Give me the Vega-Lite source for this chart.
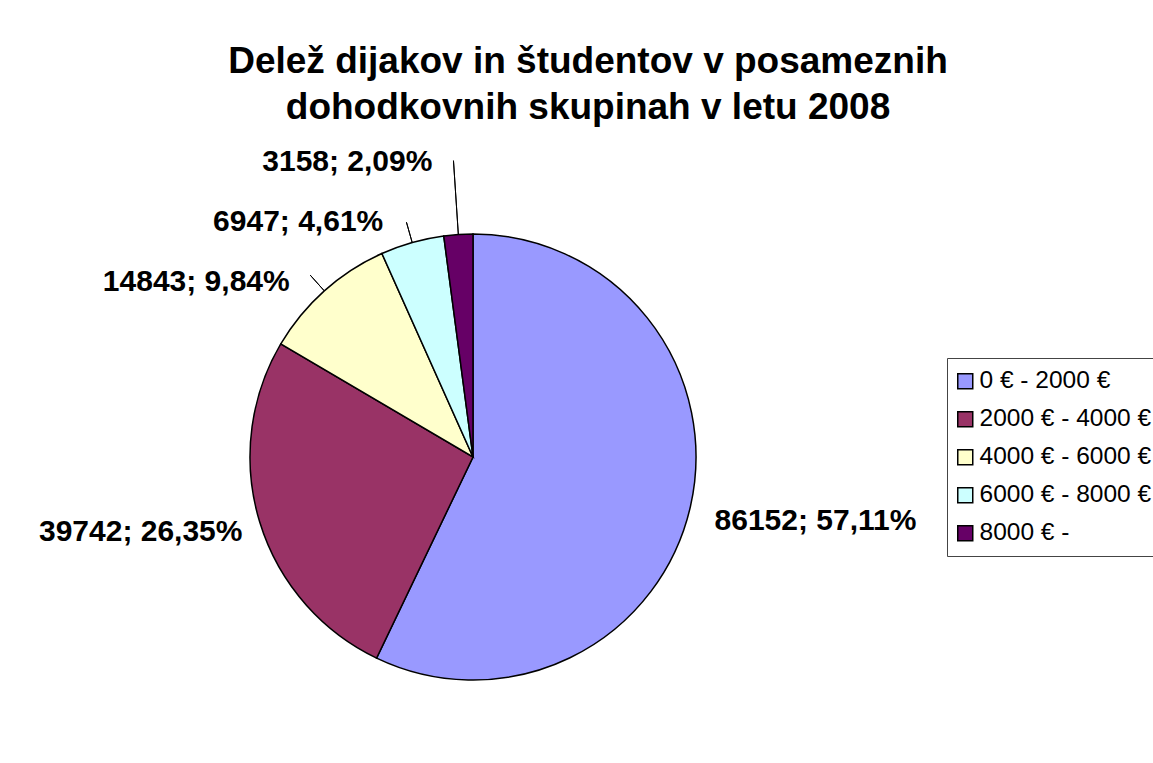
{
  "$schema": "https://vega.github.io/schema/vega-lite/v6.json",
  "width": 946,
  "height": 612,
  "autosize": {"type": "none"},
  "padding": {"left": 0, "top": 151, "right": 207, "bottom": 0},
  "background": "white",
  "config": {"view": {"stroke": null}, "font": "Liberation Sans"},
  "title": {
    "text": ["Delež dijakov in študentov v posameznih", "dohodkovnih skupinah v letu 2008"],
    "font": "Liberation Sans",
    "fontSize": 37,
    "fontWeight": "bold",
    "color": "black",
    "anchor": "middle",
    "dx": 115,
    "lineHeight": 46,
    "offset": 20
  },
  "data": {
    "values": [
      {"idx": 1, "group": "0 € - 2000 €", "count": 86152},
      {"idx": 2, "group": "2000 € - 4000 €", "count": 39742},
      {"idx": 3, "group": "4000 € - 6000 €", "count": 14843},
      {"idx": 4, "group": "6000 € - 8000 €", "count": 6947},
      {"idx": 5, "group": "8000 € -", "count": 3158}
    ]
  },
  "transform": [
    {"stack": "count", "groupby": [], "sort": [{"field": "idx", "order": "ascending"}], "as": ["t0", "t1"]},
    {"joinaggregate": [{"op": "sum", "field": "count", "as": "total"}]},
    {"calculate": "(datum.t0 + datum.t1) / 2", "as": "mid"},
    {"calculate": "datum.count + '; ' + replace(format(datum.count / datum.total, '.2%'), '.', ',')", "as": "label"}
  ],
  "layer": [
    {
      "mark": {"type": "arc", "outerRadius": 223, "stroke": "black", "strokeWidth": 1.5},
      "encoding": {
        "theta": {"field": "count", "type": "quantitative", "stack": true},
        "order": {"field": "idx", "type": "quantitative", "sort": "ascending"},
        "color": {
          "field": "group",
          "type": "nominal",
          "sort": {"field": "idx"},
          "scale": {
            "domain": ["0 € - 2000 €", "2000 € - 4000 €", "4000 € - 6000 €", "6000 € - 8000 €", "8000 € -"],
            "range": ["#9999FF", "#993366", "#FFFFCC", "#CCFFFF", "#660066"]
          },
          "legend": {
            "orient": "none",
            "legendX": 947,
            "legendY": 207,
            "title": null,
            "labelFontSize": 24.5,
            "labelFont": "Liberation Sans",
            "labelColor": "black",
            "symbolType": "square",
            "symbolSize": 225,
            "symbolStrokeColor": "black",
            "symbolStrokeWidth": 1.5,
            "symbolOpacity": 1,
            "symbolOffset": -5,
            "rowPadding": 13,
            "padding": 11,
            "strokeColor": "#444444",
            "labelLimit": 400,
            "labelOffset": 2
          }
        }
      }
    },
    {
      "transform": [{"filter": "datum.idx == 3 || datum.idx == 4"}],
      "mark": {"type": "arc", "innerRadius": 223, "outerRadius": 244, "stroke": "black", "strokeWidth": 1, "fillOpacity": 0},
      "encoding": {
        "theta": {"field": "mid", "type": "quantitative", "stack": null},
        "theta2": {"field": "mid"}
      }
    },
    {
      "transform": [{"filter": "datum.idx == 5"}],
      "mark": {"type": "arc", "innerRadius": 223, "outerRadius": 297, "stroke": "black", "strokeWidth": 1, "fillOpacity": 0},
      "encoding": {
        "theta": {"field": "mid", "type": "quantitative", "stack": null},
        "theta2": {"field": "mid"}
      }
    },
    {
      "transform": [{"filter": "datum.idx == 1"}],
      "mark": {"type": "text", "radius": 223, "dx": 125, "dy": 15, "fontSize": 30, "fontWeight": "bold", "font": "Liberation Sans", "align": "center", "baseline": "middle", "color": "black"},
      "encoding": {"theta": {"field": "mid", "type": "quantitative", "stack": null}, "text": {"field": "label"}}
    },
    {
      "transform": [{"filter": "datum.idx == 2"}],
      "mark": {"type": "text", "radius": 223, "dx": -119, "dy": 10, "fontSize": 30, "fontWeight": "bold", "font": "Liberation Sans", "align": "center", "baseline": "middle", "color": "black"},
      "encoding": {"theta": {"field": "mid", "type": "quantitative", "stack": null}, "text": {"field": "label"}}
    },
    {
      "transform": [{"filter": "datum.idx == 3"}],
      "mark": {"type": "text", "radius": 223, "dx": -128, "dy": -9, "fontSize": 30, "fontWeight": "bold", "font": "Liberation Sans", "align": "center", "baseline": "middle", "color": "black"},
      "encoding": {"theta": {"field": "mid", "type": "quantitative", "stack": null}, "text": {"field": "label"}}
    },
    {
      "transform": [{"filter": "datum.idx == 4"}],
      "mark": {"type": "text", "radius": 223, "dx": -114, "dy": -20, "fontSize": 30, "fontWeight": "bold", "font": "Liberation Sans", "align": "center", "baseline": "middle", "color": "black"},
      "encoding": {"theta": {"field": "mid", "type": "quantitative", "stack": null}, "text": {"field": "label"}}
    },
    {
      "transform": [{"filter": "datum.idx == 5"}],
      "mark": {"type": "text", "radius": 223, "dx": -111, "dy": -72, "fontSize": 30, "fontWeight": "bold", "font": "Liberation Sans", "align": "center", "baseline": "middle", "color": "black"},
      "encoding": {"theta": {"field": "mid", "type": "quantitative", "stack": null}, "text": {"field": "label"}}
    }
  ]
}
